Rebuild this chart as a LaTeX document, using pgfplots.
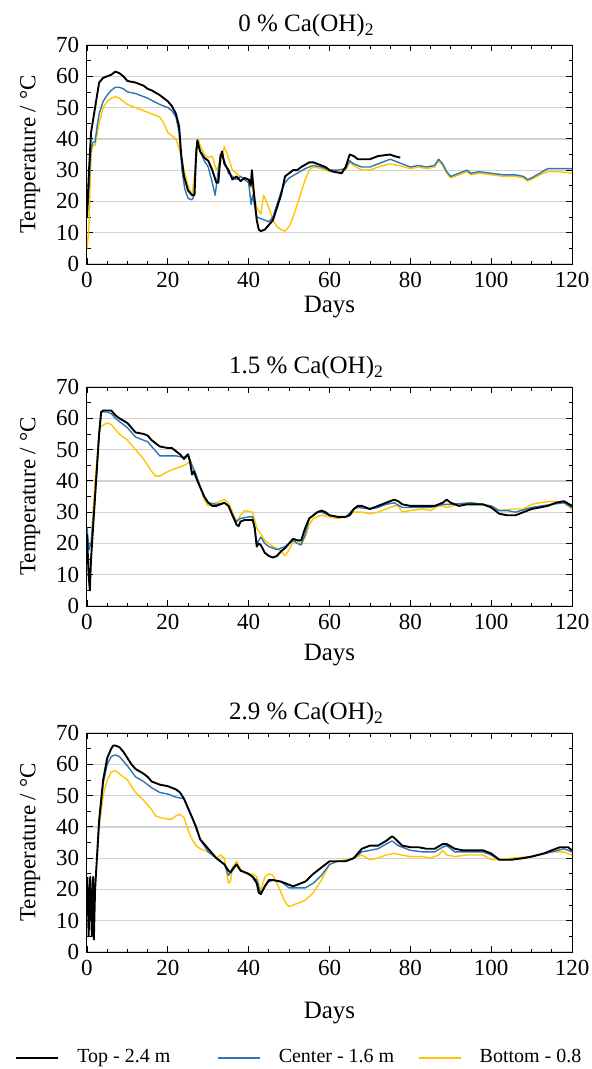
\documentclass[border=0pt]{standalone}
\usepackage{pgfplots}
\pgfplotsset{compat=1.18}
\usepackage{fontspec}
\setmainfont{Liberation Serif}
\definecolor{cblue}{RGB}{46,117,182}
\definecolor{cyel}{RGB}{255,198,0}
\pgfplotsset{
  tempax/.style={
    width=485pt, height=219pt, scale only axis,
    xmin=0, xmax=120, ymin=0, ymax=70,
    xtick={0,20,...,120}, ytick={0,10,...,70},
    minor x tick num=3, minor y tick num=1,
    tick align=inside,
    major tick length=6pt, minor tick length=3.5pt,
    every tick/.style={black, line width=0.8pt},
    axis line style={line width=1pt},
    ymajorgrids, major grid style={gray!35, line width=1.3pt},
    /pgf/number format/assume math mode=true,
    ylabel={Temperature / °C},
    xlabel={Days},
    tick label style={font=\fontsize{23}{27}\selectfont},
    every axis y label/.style={at={(axis description cs:-0.117,0.5)}, rotate=90, anchor=center, font=\fontsize{23}{27}\selectfont},
    every axis title/.style={at={(axis description cs:0.452,1)}, anchor=south, yshift=0pt, font=\fontsize{25}{29}\selectfont},
    line join=round,
  },
  topl/.style={black, line width=1.9pt},
  cenl/.style={cblue, line width=1.4pt},
  botl/.style={cyel, line width=1.4pt},
}
\begin{document}
\fontsize{23}{27}\selectfont
\begin{tikzpicture}
\path[use as bounding box] (0,0) rectangle (592pt,-1069pt);
% ---------- plot 1
\begin{axis}[tempax, at={(87pt,-264pt)}, anchor=south west,
  title={0 \% Ca(OH)\textsubscript{2}},
  every axis x label/.style={at={(axis description cs:0.5,-0.197)}, anchor=center, font=\fontsize{25}{29}\selectfont}]
\addplot[botl] coordinates {(0,5) (0.5,12) (1,35) (1.5,38) (2,38) (3,45) (4,50) (5,52) (6,53) (7,53.5) (8,53) (10,51) (12,50) (15,48.5) (18,47) (19,45) (20,42) (21,41) (22,40) (23,36) (24,30) (25,25) (26,22) (27,33) (27.5,40) (28,38) (29,35) (30,34) (31,34.5) (32,30) (33,32) (34,37.5) (35,34) (36,30) (37,29) (38,28) (39,27) (40,26) (41,24) (42,18) (43,16) (43.7,22) (45,18) (46,14) (47,12) (48,11) (49,10.5) (50,12) (51,15) (52,19) (53,23) (54,27) (55,30) (56,31) (58,30.5) (60,29.5) (62,29.5) (64,30) (65,32.5) (66,31.5) (68,30) (70,30) (72,31) (75,32) (77,31.5) (80,30.5) (82,31) (84,30.5) (86,31) (87,33) (88,31.5) (89,29) (90,27.5) (92,28.5) (94,29.5) (95,28.5) (97,29) (100,28.5) (103,28) (106,28) (108,27.5) (109,26.5) (110,27) (112,28.5) (114,29.5) (117,29.5) (120,29)};
\addplot[cenl] coordinates {(0,15) (0.5,25) (1,37) (1.5,39) (2,39) (2.5,44) (3,48) (4,52) (5,54) (6,55.5) (7,56.5) (8,56.5) (9,56) (10,55) (12,54.5) (14,53.5) (15,53) (18,51) (20,50) (21,49) (22,47) (22.8,42) (23.5,30) (24.2,24) (25,21) (26,20.5) (26.5,22) (27,37) (27.3,38) (28,36) (29,33) (30,31) (31,26) (31.7,22) (32.3,28) (33,35) (34,33) (35,29) (36,28) (37,27) (38,28) (39,27) (40,26) (40.6,19) (41,22) (42,15) (43,14.5) (44,14) (45,13.5) (46,15) (47,19) (48,23) (49,26) (50,27.5) (52,29) (54,30.5) (56,31.5) (58,31) (60,30) (62,30) (64,30.5) (65,33) (66,32) (68,31) (70,31) (72,32) (75,33.5) (77,32.5) (79,31.5) (80,31) (82,31.5) (84,31) (86,31.5) (87,33.5) (88,32) (89,29.5) (90,28) (92,29) (94,30) (95,29) (97,29.5) (100,29) (103,28.5) (106,28.5) (108,28) (109,27) (110,27.5) (112,29) (114,30.5) (117,30.5) (120,30.5)};
\addplot[topl] coordinates {(0,15) (0.5,30) (1,42) (2,50) (3,58) (4,59.5) (5,60) (6,60.5) (7,61.5) (8,61) (9,60) (10,58.5) (12,58) (14,57) (15,56) (16,55.5) (18,54) (20,52) (21,50.5) (22,48) (22.8,44) (23.3,35) (24,28) (25,23.5) (26,22) (26.6,22) (27,35) (27.3,39.5) (28,36) (29,34) (30,33) (31,30) (32,26) (32.5,26) (33,34) (33.4,36) (34,32) (35,30) (36,27) (37,28) (38,26.5) (39,27.5) (40,27) (40.5,25) (40.8,30) (41.2,24) (42,14) (42.5,11) (43,10.5) (44,11) (45,12.5) (46,14) (47,18) (48,22) (49,28) (50,29) (51,30) (52,30) (53,31) (55,32.5) (56,32.5) (57,32) (59,31) (60,30) (61,29.5) (63,29) (64,31) (65,35) (66,34.5) (67,33.5) (70,33.5) (72,34.5) (75,35) (76,34.5) (77.5,34)};
\end{axis}
% ---------- plot 2
\begin{axis}[tempax, at={(87pt,-606pt)}, anchor=south west,
  title={1.5 \% Ca(OH)\textsubscript{2}},
  every axis x label/.style={at={(axis description cs:0.5,-0.225)}, anchor=center, font=\fontsize{25}{29}\selectfont}]
\addplot[botl] coordinates {(0,22) (0.5,19) (1,20) (2,40) (3,55) (3.5,57.5) (5,58.5) (6,58) (7,56.5) (8,55) (10,53) (12,50) (14,47) (15,45) (16,43) (17,41.5) (18,41.5) (20,43) (22,44) (24,45) (25.5,46) (26,44) (27,42) (28,38) (29,34) (30,32) (31,32.5) (33,33.5) (34,34) (35,33) (36,30) (37,27) (38,29) (39,30.5) (41,30) (42,25) (43,23) (44,21) (45,20) (46,19) (47,18.5) (48,17.5) (49,16) (50,18) (51,20.5) (52,21) (53,20) (54,22) (55,26) (56,28) (58,29) (60,28.5) (62,28) (64,28.5) (66,30) (68,30) (70,29.5) (72,30) (74,31) (76,32) (77,32) (78,30) (80,30.5) (83,31) (85,30.5) (87,32) (88,32) (89,31.5) (92,32.5) (95,33) (98,32.5) (100,31.5) (102,30.5) (105,31) (108,31) (110,32.5) (112,33) (115,33.5) (118,33) (120,31)};
\addplot[cenl] coordinates {(0,25) (0.5,18) (1,20) (2,35) (3,55) (3.5,62) (5,62) (6,61.5) (7,60) (8,59) (10,57) (12,54) (14,53) (15,52.5) (16,51) (17,49.5) (18,48) (20,48) (22,48) (24,47.5) (25,48.5) (26,45) (27,42) (28,38) (29,35) (30,33) (32,32.5) (34,33) (35,32) (36,29) (37,27) (38,28) (40,28.5) (41,28.5) (42,20) (43,22) (44,20) (45,19) (46,18.5) (47,18) (48,18.5) (49,19) (50,20) (51,21) (52,20) (53,19.5) (54,23) (55,28) (57,30) (58,30) (60,29) (62,28.5) (64,28.5) (66,31) (67,31.5) (70,31) (72,31.5) (74,32.5) (76,33) (78,31.5) (80,31.5) (85,31.5) (88,32.5) (90,32.5) (95,33) (100,32) (102,30.5) (104,30.5) (106,30) (110,31.5) (115,32.5) (118,33) (120,31.5)};
\addplot[topl] coordinates {(0,23) (0.4,10) (0.7,5) (1,15) (2,35) (3,55) (3.5,62) (4,62.5) (6,62.5) (7,61) (8,60) (10,58.5) (11,57) (12,55.5) (14,55) (15,54.5) (16,53) (17,52) (18,51) (20,50.5) (21,50.5) (22,49.5) (23,48.5) (24,47) (25,48.5) (25.5,46) (26,42) (26.5,43) (27,41) (28,38) (29,35) (30,33) (31,32) (32,32) (33,32.5) (34,33) (35,32) (36,29) (37,26) (37.5,25.5) (38,27) (39,27.5) (41,27.5) (41.5,25) (42,19) (42.5,20) (43,19.5) (44,17) (45,16) (46,15.5) (47,16) (48,17.5) (49,18.5) (50,20) (51,21.5) (52,21) (53,21) (54,25) (55,28) (56,29) (57,30) (58,30.5) (59,30) (60,29) (62,28.5) (64,28.5) (65,29) (66,31) (67,32) (68,32) (70,31) (72,32) (74,33) (76,34) (77,33.5) (78,32.5) (80,32) (82,32) (84,32) (86,32) (88,33) (89,34) (90,33) (92,32) (94,32.5) (96,32.5) (98,32.5) (100,31.5) (102,29.5) (104,29) (106,29) (108,30) (110,31) (112,31.5) (114,32) (116,33) (118,33.5) (120,32)};
\end{axis}
% ---------- plot 3
\begin{axis}[tempax, at={(87pt,-952pt)}, anchor=south west,
  title={2.9 \% Ca(OH)\textsubscript{2}},
  every axis x label/.style={at={(axis description cs:0.5,-0.28)}, anchor=center, font=\fontsize{25}{29}\selectfont},
  legend columns=3,
  legend style={at={(axis description cs:-0.148,-0.484)}, anchor=west, draw=none, fill=none,
    inner xsep=0pt, inner ysep=0pt, font=\fontsize{20}{24}\selectfont,
    column sep=0pt, nodes={inner xsep=0pt}},
  legend image code/.code={\draw[#1] (0pt,0pt) -- (42pt,0pt); \path (60pt,0pt);},
  legend cell align=left]
\addlegendimage{topl}\addlegendentry{Top - 2.4 m\hspace*{47pt}}
\addlegendimage{cenl}\addlegendentry{Center - 1.6 m\hspace*{24pt}}
\addlegendimage{botl}\addlegendentry{Bottom - 0.8}
\addplot[botl, forget plot] coordinates {(3,40) (4,50) (5,55) (6,57.5) (7,58) (8,57) (10,55) (12,51) (14,48.5) (16,45.5) (17,43.5) (18,43) (20,42.5) (21,42.5) (22,43.5) (23,44) (24,43) (25,39) (26,36) (27,34) (28,33) (30,32) (32,30) (33,31) (34,30) (35,22) (35.5,22.5) (36,27) (37,29) (38,26.5) (40,24.5) (41,25) (42,24) (43,19.5) (44,24) (45,25) (46,24.5) (47,22) (48,19) (49,16) (50,14.5) (52,15.5) (54,16.5) (56,19) (58,23) (60,28) (62,29) (64,29.5) (66,30) (68,31) (70,29.5) (72,30) (74,31) (76,31.5) (78,31) (80,30.5) (83,30.5) (85,30) (87,31) (88,32.5) (89,31) (91,30.5) (94,31) (98,31) (100,29.5) (102,29.5) (105,30) (110,30.5) (115,32) (118,32) (120,31)};
\addplot[cenl, forget plot] coordinates {(2.5,30) (3,42) (4,54) (5,60) (6,62.5) (7,63) (8,62.5) (10,59.5) (12,56) (14,54.5) (16,52.5) (18,51) (20,50.5) (22,49.5) (24,49) (25,46) (26,43) (28,36) (30,32) (32,30) (34,28) (35,24.5) (36,26) (37,28) (38,26) (40,25) (42,23) (43,18.5) (44,21) (45,22.5) (46,23) (48,22.5) (50,20.5) (52,20.5) (54,20.5) (56,22) (58,24.5) (60,28) (62,29) (64,29) (66,30) (68,32) (70,32.5) (72,33) (74,34.5) (75.5,35.5) (77,34) (80,32.5) (83,32) (86,32) (88,33.5) (89,34) (91,32) (94,32) (98,32) (100,31) (102,29.5) (105,29.5) (110,30.5) (115,32) (118,33) (120,32)};
\addplot[topl, forget plot] coordinates {(0.1,24) (0.4,5) (0.8,24) (1.2,5) (1.5,24) (1.7,4) (2,20) (3,42) (4,55) (5,62) (6,65) (6.5,66) (7,66) (8,65.5) (9,64) (10,62) (11,60) (12,58.5) (14,57) (15,56) (16,54.5) (18,53.5) (20,53) (22,52) (23,51) (24,49) (25,46) (26,43) (27,40) (28,36) (29,34.5) (30,33) (32,30) (34,28) (35,26) (35.5,25.5) (36,26.5) (37,28) (38,26) (40,25) (41,24) (42,22) (42.5,19) (43,18.5) (44,21) (45,23) (46,23) (48,22.5) (50,21.5) (51,21) (52,21.5) (54,22.5) (56,25) (58,27) (60,29) (62,29) (64,29) (66,30) (68,33) (70,34) (72,34) (74,35.5) (75.5,37) (76,36.5) (78,34) (80,33.5) (82,33.5) (84,33) (86,33) (88,34.5) (89,34.5) (91,33) (93,32.5) (96,32.5) (98,32.5) (100,31.5) (102,29.5) (105,29.5) (108,30) (110,30.5) (113,31.5) (115,32.5) (117,33.5) (119,33.5) (120,32.5)};
\end{axis}
\end{tikzpicture}
\end{document}
